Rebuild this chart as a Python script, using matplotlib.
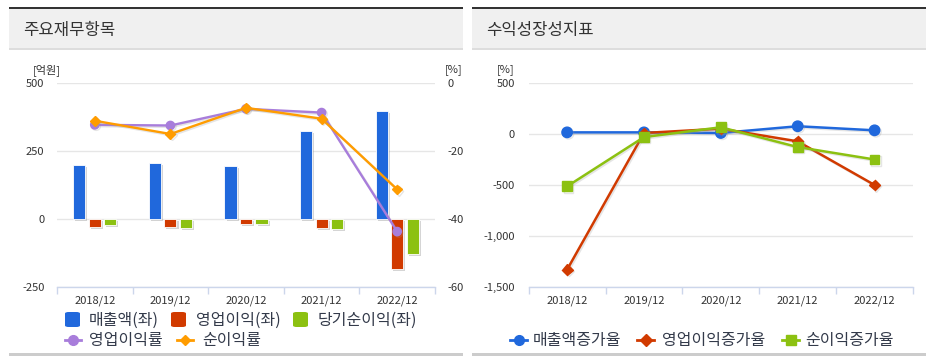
import matplotlib
matplotlib.use("Agg")
import matplotlib.pyplot as plt
import matplotlib.patheffects as pe
from matplotlib.patches import Rectangle, FancyBboxPatch
from matplotlib.lines import Line2D
import numpy as np

plt.rcParams['font.family'] = ['Noto Sans CJK KR', 'DejaVu Sans']

# ---- data ----
categories = ['2018/12', '2019/12', '2020/12', '2021/12', '2022/12']
sales = [199, 205, 195, 323, 398]              # 매출액(좌) 억원
op_income = [-28, -28, -18, -33, -183]         # 영업이익(좌)
net_income = [-22, -32, -18, -37, -127]        # 당기순이익(좌)
op_margin = [-12.3, -12.5, -7.6, -8.7, -43.7]  # 영업이익률 %
net_margin = [-11.1, -15.0, -7.3, -10.5, -31.3]  # 순이익률 %

sales_growth = [16, 16, 10, 76, 36]            # 매출액증가율
op_growth = [-1329, 10, 52, -72, -500]         # 영업이익증가율
net_growth = [-513, -30, 66, -128, -250]       # 순이익증가율

left_yticks = [-250, 0, 250, 500]
right_yticks = [-60, -40, -20, 0]
growth_yticks = [-1500, -1000, -500, 0, 500]
growth_ylabels = ['-1,500', '-1,000', '-500', '0', '500']

C_BLUE = '#2068dc'
C_RED = '#d13a00'
C_GREEN = '#8cc111'
C_PURPLE = '#a87ddb'
C_ORANGE = '#ff9c00'
GRID = '#e6e6e6'
AXC = '#ccd6eb'
TXT = '#333333'

W, H = 933, 359
fig = plt.figure(figsize=(W / 100, H / 100), dpi=100)


def fx(x):
    return x / W


def fy(y):
    return 1 - y / H


def rect(x0, y0, x1, y1, color):
    fig.add_artist(Rectangle((fx(x0), fy(y1)), fx(x1) - fx(x0), fy(y0) - fy(y1),
                             transform=fig.transFigure, color=color, lw=0, zorder=0))


# panel decorations
for (px0, px1, title) in [(9, 463, '주요재무항목'), (472, 926, '수익성장성지표')]:
    rect(px0, 7, px1, 9, '#333333')
    rect(px0, 9, px1, 48.5, '#f0f0f0')
    rect(px0, 48.5, px1, 50, '#dddddd')
    rect(px0, 353, px1, 355.5, '#cccccc')
    fig.text(fx(px0 + 14), fy(30), title, fontsize=12, color=TXT, va='center', ha='left')

x = np.arange(len(categories))
shadow = [pe.SimplePatchShadow(offset=(1.5, -1.5), shadow_rgbFace='#888888', alpha=0.35), pe.Normal()]
lshadow = [pe.SimpleLineShadow(offset=(1, -1), shadow_color='#999999', alpha=0.25), pe.Normal()]


def style_axis(ax):
    ax.set_xlim(-0.5, len(categories) - 0.5)
    for s in ['top', 'left', 'right']:
        ax.spines[s].set_visible(False)
    ax.spines['bottom'].set_color(AXC)
    ax.spines['bottom'].set_linewidth(1)
    ax.set_xticks(x)
    ax.set_xticklabels(categories, fontsize=8, color=TXT)
    ax.set_xticks(np.arange(-0.5, len(categories)), minor=True)
    ax.tick_params(axis='x', which='major', length=0, pad=6)
    ax.tick_params(axis='x', which='minor', length=5, color=AXC, width=1)
    ax.tick_params(axis='y', length=0, labelsize=8, labelcolor=TXT)
    ax.yaxis.grid(True, color=GRID, lw=1)
    ax.set_axisbelow(True)
    ax.set_facecolor('none')


# ---- left chart ----
ax1 = fig.add_axes([fx(57), fy(287), fx(435) - fx(57), fy(83) - fy(287)])
style_axis(ax1)
ax1.set_ylim(-250, 500)
ax1.set_yticks(left_yticks)
ax1.set_yticklabels([str(v) for v in left_yticks])
ax1.tick_params(axis='y', pad=9)
bw = 0.16
off = 0.205
for vals, col, o in [(sales, C_BLUE, -off), (op_income, C_RED, 0), (net_income, C_GREEN, off)]:
    bars = ax1.bar(x + o, vals, width=bw, color=col, edgecolor='white', linewidth=0.6, zorder=2)
    for b in bars:
        b.set_path_effects(shadow)

ax2 = ax1.twinx()
ax2.set_ylim(-60, 0)
ax2.set_yticks(right_yticks)
ax2.set_yticklabels([str(v) for v in right_yticks])
for s in ['top', 'left', 'right', 'bottom']:
    ax2.spines[s].set_visible(False)
ax2.tick_params(axis='y', length=0, labelsize=8, labelcolor=TXT, pad=9)
ax2.plot(x, op_margin, color=C_PURPLE, lw=1.7, marker='o', ms=6, zorder=3, path_effects=lshadow)
ax2.plot(x, net_margin, color=C_ORANGE, lw=1.7, marker='D', ms=5, zorder=4, path_effects=lshadow)

fig.text(fx(33), fy(70), '[억원]', fontsize=8, color=TXT, ha='left', va='center')
fig.text(fx(445), fy(70), '[%]', fontsize=8, color=TXT, ha='left', va='center')

# ---- right chart ----
ax3 = fig.add_axes([fx(528.7), fy(287), fx(913) - fx(528.7), fy(83) - fy(287)])
style_axis(ax3)
ax3.set_ylim(-1500, 500)
ax3.set_yticks(growth_yticks)
ax3.set_yticklabels(growth_ylabels)
ax3.tick_params(axis='y', pad=10)
ax3.plot(x, sales_growth, color=C_BLUE, lw=1.8, marker='o', ms=7.5, zorder=3, path_effects=lshadow)
ax3.plot(x, op_growth, color=C_RED, lw=1.8, marker='D', ms=5.5, zorder=4, path_effects=lshadow)
ax3.plot(x, net_growth, color=C_GREEN, lw=1.8, marker='s', ms=7, zorder=5, path_effects=lshadow)
fig.text(fx(497), fy(70), '[%]', fontsize=8, color=TXT, ha='left', va='center')

# ---- legends (manual, to match layout) ----
LEG_FS = 11.5
LEGC = '#333a4a'


def box_item(xp, yp, col, label, tx):
    fig.add_artist(FancyBboxPatch((fx(xp), fy(yp + 7)), fx(15), 15 / H,
                                  boxstyle='round,pad=0,rounding_size=0.004',
                                  transform=fig.transFigure, color=col, lw=0))
    fig.text(fx(tx), fy(yp + 0.5), label, fontsize=LEG_FS, color=LEGC, ha='left', va='center')


def line_item(xp0, xp1, yp, col, marker, ms, label, tx):
    fig.add_artist(Line2D([fx(xp0), fx(xp1)], [fy(yp), fy(yp)], transform=fig.transFigure,
                          color=col, lw=2))
    fig.add_artist(Line2D([fx((xp0 + xp1) / 2)], [fy(yp)], transform=fig.transFigure,
                          color=col, marker=marker, ms=ms, lw=0))
    fig.text(fx(tx), fy(yp + 0.5), label, fontsize=LEG_FS, color=LEGC, ha='left', va='center')


box_item(65, 320, C_BLUE, '매출액(좌)', 89)
box_item(171, 320, C_RED, '영업이익(좌)', 196)
box_item(293, 320, C_GREEN, '당기순이익(좌)', 318)
line_item(65, 81, 340, C_PURPLE, 'o', 7, '영업이익률', 89)
line_item(177, 193, 340, C_ORANGE, 'D', 5.5, '순이익률', 202)

line_item(510, 527, 340, C_BLUE, 'o', 7, '매출액증가율', 533)
line_item(637, 654, 340, C_RED, 'D', 6, '영업이익증가율', 662)
line_item(782, 799, 340, C_GREEN, 's', 7, '순이익증가율', 805)

fig.savefig('out.png', dpi=100)
